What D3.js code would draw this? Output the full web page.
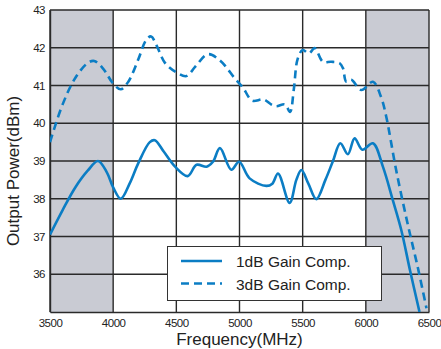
<!DOCTYPE html>
<html>
<head>
<meta charset="utf-8">
<script src="https://cdn.jsdelivr.net/npm/d3@7"></script>
<style>
  html, body { margin: 0; padding: 0; background: #fff; }
  svg { display: block; }
</style>
</head>
<body>
<svg id="chart"></svg>
<script>
const width = 441;
const height = 349;

const margin = { top: 10, right: 12, bottom: 37, left: 50 };

// x ticks (MHz) and y ticks (dBm)
const freqTicks = [3500, 4000, 4500, 5000, 5500, 6000, 6500];
const powerTicks = [35, 36, 37, 38, 39, 40, 41, 42, 43];
const powerLabels = ['', '36', '37', '38', '39', '40', '41', '42', '43'];

// shaded out-of-band regions
const bandStart = [3500, 6000];
const bandEnd = [4000, 6500];

// 1dB gain compression curve
const freq1dB = [3500, 3600, 3700, 3800, 3880, 3950, 4000, 4060, 4130, 4200, 4290, 4330, 4400, 4490, 4590, 4660, 4740, 4790, 4845, 4935, 4997, 5080, 5213, 5260, 5305, 5397, 5450, 5490, 5545, 5608, 5680, 5740, 5798, 5858, 5911, 5972, 6056, 6135, 6213, 6280, 6350, 6425];
const power1dB = [37.05, 37.7, 38.3, 38.75, 39.0, 38.7, 38.3, 38.0, 38.4, 38.95, 39.5, 39.55, 39.25, 38.85, 38.6, 38.9, 38.85, 38.98, 39.34, 38.77, 38.98, 38.54, 38.34, 38.4, 38.67, 37.89, 38.5, 38.76, 38.4, 37.99, 38.5, 39.0, 39.47, 39.18, 39.6, 39.3, 39.47, 38.85, 37.97, 37.18, 36.1, 35.0];

// 3dB gain compression curve
const freq3dB = [3500, 3600, 3700, 3800, 3850, 3920, 4000, 4060, 4120, 4200, 4260, 4300, 4345, 4410, 4500, 4580, 4650, 4750, 4850, 4960, 5030, 5100, 5190, 5250, 5290, 5360, 5400, 5430, 5460, 5500, 5550, 5595, 5660, 5727, 5793, 5819, 5845, 5885, 5964, 6056, 6120, 6160, 6240, 6330, 6410, 6480];
const power3dB = [39.5, 40.5, 41.2, 41.6, 41.65, 41.45, 41.05, 40.9, 41.1, 41.7, 42.2, 42.3, 42.05, 41.6, 41.35, 41.25, 41.5, 41.83, 41.65, 41.2, 40.93, 40.6, 40.63, 40.5, 40.45, 40.5, 40.3, 40.9, 41.7, 41.94, 41.85, 41.99, 41.63, 41.63, 41.59, 41.46, 41.1, 41.15, 40.88, 41.1, 40.7, 40.2, 38.76, 37.35, 36.2, 35.1];

const seriesNames = ['1dB Gain Comp.', '3dB Gain Comp.'];

const svg = d3.select('#chart')
  .attr('width', width)
  .attr('height', height);

const x = d3.scaleLinear()
  .domain([3500, 6500])
  .range([margin.left, width - margin.right]);

const y = d3.scaleLinear()
  .domain([35, 43])
  .range([height - margin.bottom, margin.top]);

const blue = '#0b7dc4';
const gridColor = '#2a2a2a';
const tickFont = '"Liberation Sans Narrow", "Arial Narrow", "Liberation Sans", Arial, sans-serif';
const labelFont = '"Liberation Sans", Arial, Helvetica, sans-serif';

// clip so curves stay inside plot
svg.append('defs').append('clipPath')
  .attr('id', 'plotClip')
  .append('rect')
  .attr('x', x(3500))
  .attr('y', y(43))
  .attr('width', x(6500) - x(3500))
  .attr('height', y(35) - y(43));

// shaded bands
svg.append('g')
  .selectAll('rect')
  .data(bandStart)
  .join('rect')
  .attr('x', (d) => x(d))
  .attr('y', y(43))
  .attr('width', (d, i) => x(bandEnd[i]) - x(d))
  .attr('height', y(35) - y(43))
  .attr('fill', '#c9cbd3');

// grid
const grid = svg.append('g');

grid.selectAll('line.h')
  .data(powerTicks.slice(1))
  .join('line')
  .attr('class', 'h')
  .attr('x1', x(3500))
  .attr('x2', x(6500))
  .attr('y1', (d) => y(d))
  .attr('y2', (d) => y(d))
  .attr('stroke', gridColor)
  .attr('stroke-width', 1.4);

grid.selectAll('line.v')
  .data(freqTicks)
  .join('line')
  .attr('class', 'v')
  .attr('x1', (d) => x(d))
  .attr('x2', (d) => x(d))
  .attr('y1', y(43))
  .attr('y2', y(35))
  .attr('stroke', gridColor)
  .attr('stroke-width', 1.4);

// axes
const xAxis = svg.append('g')
  .attr('transform', `translate(0,${y(35)})`)
  .call(d3.axisBottom(x).tickValues(freqTicks).tickSize(0).tickPadding(7).tickFormat(d3.format('d')));

const yAxis = svg.append('g')
  .attr('transform', `translate(${x(3500)},0)`)
  .call(d3.axisLeft(y).tickValues(powerTicks).tickSize(0).tickPadding(5).tickFormat((d, i) => powerLabels[i]));

[xAxis, yAxis].forEach((ax) => {
  ax.select('.domain').attr('stroke', gridColor).attr('stroke-width', 1.4);
  ax.selectAll('text')
    .attr('fill', '#222')
    .style('font-family', tickFont)
    .style('font-size', '11.5px')
    .style('letter-spacing', '-0.5px');
});

// curves
const line = d3.line()
  .x((d) => x(d[0]))
  .y((d) => y(d[1]))
  .curve(d3.curveCatmullRom.alpha(0.5));

const data1 = d3.zip(freq1dB, power1dB);
const data3 = d3.zip(freq3dB, power3dB);

const curves = svg.append('g').attr('clip-path', 'url(#plotClip)');

curves.append('path')
  .datum(data1)
  .attr('d', line)
  .attr('fill', 'none')
  .attr('stroke', blue)
  .attr('stroke-width', 2.6);

curves.append('path')
  .datum(data3)
  .attr('d', line)
  .attr('fill', 'none')
  .attr('stroke', blue)
  .attr('stroke-width', 2.6)
  .attr('stroke-dasharray', '8,5');

// legend
const legend = svg.append('g');

legend.append('rect')
  .attr('x', 167.5)
  .attr('y', 246.5)
  .attr('width', 214)
  .attr('height', 54)
  .attr('fill', '#fff')
  .attr('stroke', '#333')
  .attr('stroke-width', 1);

seriesNames.forEach((name, i) => {
  const ly = 261 + i * 22.5;
  legend.append('line')
    .attr('x1', 181)
    .attr('x2', 222)
    .attr('y1', ly)
    .attr('y2', ly)
    .attr('stroke', blue)
    .attr('stroke-width', 2.6)
    .attr('stroke-dasharray', i === 1 ? '8,5' : null);
  legend.append('text')
    .attr('x', 236)
    .attr('y', ly + 6)
    .attr('fill', '#222')
    .style('font-family', labelFont)
    .style('font-size', '15.5px')
    .text(name);
});

// axis titles
svg.append('text')
  .attr('x', (x(3500) + x(6500)) / 2)
  .attr('y', 345)
  .attr('text-anchor', 'middle')
  .attr('fill', '#222')
  .style('font-family', labelFont)
  .style('font-size', '17px')
  .text('Frequency(MHz)');

svg.append('text')
  .attr('transform', `translate(19,${(y(35) + y(43)) / 2 + 10}) rotate(-90)`)
  .attr('text-anchor', 'middle')
  .attr('fill', '#222')
  .style('font-family', labelFont)
  .style('font-size', '17px')
  .text('Output Power(dBm)');
</script>
</body>
</html>
